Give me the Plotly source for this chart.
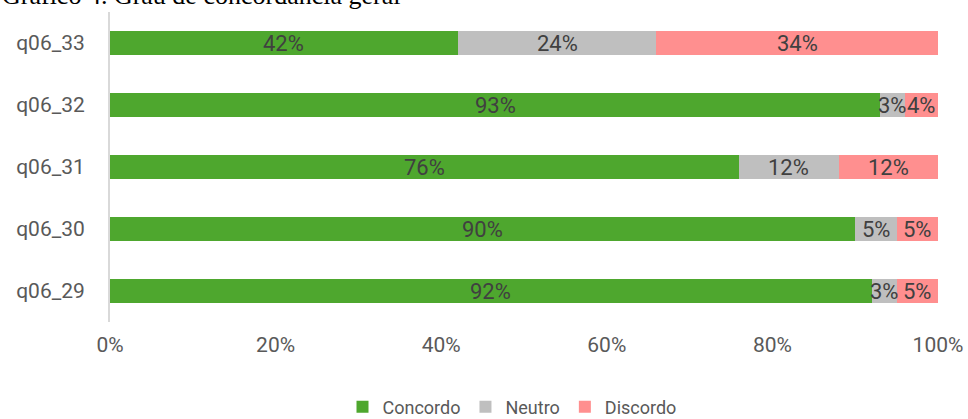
import plotly.graph_objects as go

# Survey items (bottom to top as drawn) and response shares in percent
items = ["q06_29", "q06_30", "q06_31", "q06_32", "q06_33"]
concordo = [92, 90, 76, 93, 42]
neutro = [3, 5, 12, 3, 24]
discordo = [5, 5, 12, 4, 34]

series = [
    ("Concordo", concordo, "#4EA72E"),
    ("Neutro", neutro, "#BFBFBF"),
    ("Discordo", discordo, "#FF8F8F"),
]

tick_vals = [0, 20, 40, 60, 80, 100]
tick_text = ["0%", "20%", "40%", "60%", "80%", "100%"]

FONT = "Roboto, Arial, sans-serif"
TEXT_COLOR = "#595959"

fig = go.Figure()
for name, vals, color in series:
    fig.add_trace(go.Bar(
        y=items, x=vals, name=name, orientation="h",
        marker=dict(color=color, line=dict(width=0)),
        width=0.39,
    ))

# Value labels centred on each segment
annotations = []
for i, item in enumerate(items):
    left = 0
    for name, vals, color in series:
        v = vals[i]
        annotations.append(dict(
            x=left + v / 2, y=item, xref="x", yref="y",
            text=f"{v}%", showarrow=False,
            font=dict(family=FONT, size=22, color="#404040"),
        ))
        left += v

# Chart caption, clipped by the top edge
annotations.append(dict(
    x=0, y=1.0, xref="paper", yref="paper", xanchor="left", yanchor="bottom",
    xshift=-110, yshift=0,
    text="Gráfico 4. Grau de concordância geral", showarrow=False,
    font=dict(family="Liberation Serif, serif", size=26, color="#000000"),
))

fig.update_layout(
    barmode="stack",
    width=968, height=419,
    margin=dict(l=110, r=30, t=12, b=97),
    paper_bgcolor="white", plot_bgcolor="white",
    font=dict(family=FONT, size=21, color=TEXT_COLOR),
    annotations=annotations,
    showlegend=True,
    legend=dict(
        orientation="h", x=512 / 968, xanchor="center", xref="container",
        y=12 / 419, yanchor="middle", yref="container",
        font=dict(family=FONT, size=18, color=TEXT_COLOR),
        traceorder="normal", itemwidth=30,
    ),
    bargap=0.61,
)
fig.update_xaxes(
    range=[0, 100], tickvals=tick_vals, ticktext=tick_text,
    showgrid=False, zeroline=False, showline=False,
    ticks="", ticklen=0, tickfont=dict(size=21, color=TEXT_COLOR),
    ticklabelstandoff=8, automargin=False,
    fixedrange=True,
)
fig.update_yaxes(
    showgrid=False, zeroline=False,
    showline=True, linecolor="#D9D9D9", linewidth=2,
    ticks="", ticklabelstandoff=19, automargin=False,
    tickfont=dict(size=21, color=TEXT_COLOR),
    fixedrange=True,
)

fig.write_html("out.html")
